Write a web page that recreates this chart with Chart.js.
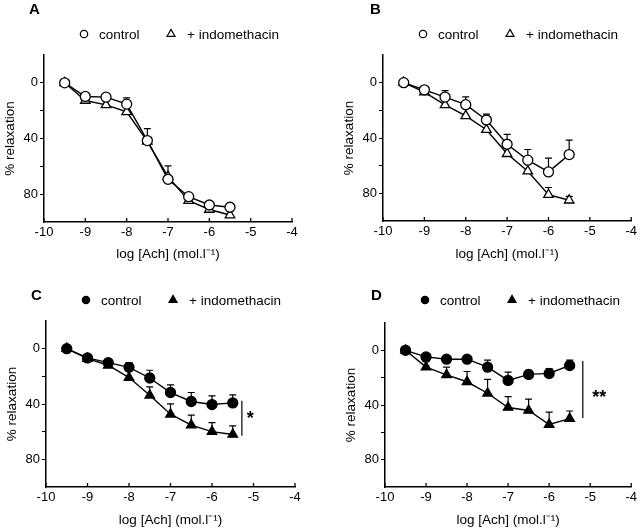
<!DOCTYPE html>
<html>
<head>
<meta charset="utf-8">
<script src="https://cdn.jsdelivr.net/npm/chart.js@4/dist/chart.umd.min.js"></script>
<style>
  body { margin: 0; background: #fff; }
  #wrap { position: relative; width: 640px; height: 532px; }
  .panel { position: absolute; width: 320px; height: 266px; }
  .letter { position: absolute; font: bold 15px "Liberation Sans", Arial, sans-serif; color: #000; }
</style>
</head>
<body>
<div id="wrap">
  <div class="panel" style="left:0;top:0"><canvas id="chartA" width="320" height="266"></canvas></div>
  <div class="panel" style="left:320px;top:0"><canvas id="chartB" width="320" height="266"></canvas></div>
  <div class="panel" style="left:0;top:266px"><canvas id="chartC" width="320" height="266"></canvas></div>
  <div class="panel" style="left:320px;top:266px"><canvas id="chartD" width="320" height="266"></canvas></div>
  <div class="letter" style="left:29px;top:0px">A</div>
  <div class="letter" style="left:370px;top:0px">B</div>
  <div class="letter" style="left:31px;top:286px">C</div>
  <div class="letter" style="left:371px;top:286px">D</div>
</div>
<script>
// log [Ach] doses
const doses = [-9.5, -9, -8.5, -8, -7.5, -7, -6.5, -6, -5.5];
const yLabelled = [0, 40, 80];
const seriesNames = ["control", "+ indomethacin"];

// panel A
const aControl = [0, 9.8, 10.3, 15.3, 41.5, 69.3, 81.8, 87.8, 89.4];
const aControlErr = [0, 0, 2.4, 4.5, 8.6, 9.6, 0, 1.2, 1.6];
const aIndo = [0, 12.7, 15.8, 20.9, 42, 67.4, 84.7, 91, 95];
const aIndoErr = [0, 0, 0, 0, 0, 0, 0, 0, 0];

// panel B
const bControl = [0, 5.2, 10.4, 15.9, 27, 44.5, 56, 64.5, 52];
const bControlErr = [0, 0, 4.7, 5.7, 4.3, 7.1, 7.7, 10, 10.5];
const bIndo = [0, 6.9, 16.1, 24, 34, 51.4, 64, 81, 85];
const bIndoErr = [0, 0, 0, 0, 0, 0, 0, 5.2, 2.8];

// panel C
const cControl = [0, 6.7, 10.1, 13.5, 21.2, 31.7, 38.2, 40.4, 39.2];
const cControlErr = [0, 0, 2.6, 3.4, 5.6, 5.5, 6.5, 6.3, 5.8];
const cIndo = [0, 7.2, 12, 20.9, 33.7, 47.4, 55.3, 60, 62];
const cIndoErr = [0, 0, 0, 0, 6.1, 7.5, 7.3, 6.6, 6.2];
const cSig = [-5.28, 37.7, 63];   // x, from, to
const cStar = [-5.08, 49, "*"];

// panel D
const dControl = [0, 4.8, 6.5, 6.5, 12.3, 22, 17.6, 16.9, 11.1];
const dControlErr = [0, 0, 0, 0, 5.1, 6, 2.9, 3.6, 3.9];
const dIndo = [0, 12.3, 18, 23, 31.4, 41.8, 44, 54.3, 50];
const dIndoErr = [0, 4, 5.7, 7.5, 10.1, 8, 8.3, 9.1, 5.6];
const dSig = [-5.18, 7.8, 49.5];
const dStar = [-4.78, 32.4, "**"];

const FONT = '"Liberation Sans", Arial, sans-serif';

const errorBars = {
  id: "errorBars",
  beforeDatasetsDraw(chart) {
    const { ctx, scales: { x, y } } = chart;
    ctx.save();
    ctx.strokeStyle = "#000";
    ctx.lineWidth = 1.2;
    chart.data.datasets.forEach((ds) => {
      ds.err.forEach((e, i) => {
        if (!e) return;
        const px = x.getPixelForValue(ds.data[i].x);
        const p0 = y.getPixelForValue(ds.data[i].y);
        const p1 = y.getPixelForValue(ds.data[i].y - e);
        ctx.beginPath();
        ctx.moveTo(px, p0);
        ctx.lineTo(px, p1);
        ctx.moveTo(px - 3.5, p1);
        ctx.lineTo(px + 3.5, p1);
        ctx.stroke();
      });
    });
    ctx.restore();
  },
};

const deco = {
  id: "deco",
  afterDraw(chart, args, opts) {
    const { ctx, chartArea, scales: { x, y } } = chart;
    ctx.save();
    ctx.strokeStyle = "#000";
    ctx.fillStyle = "#000";
    ctx.lineWidth = 1.3;

    // inward x ticks
    x.ticks.forEach((t) => {
      const px = x.getPixelForValue(t.value);
      ctx.beginPath();
      ctx.moveTo(px, chartArea.bottom);
      ctx.lineTo(px, chartArea.bottom - 4);
      ctx.stroke();
    });

    // legend
    const ly = opts.legendY;
    const marks = [40, 127];
    const texts = [55, 143];
    ctx.font = "13.5px " + FONT;
    ctx.textBaseline = "middle";
    chart.data.datasets.forEach((ds, i) => {
      ctx.fillStyle = ds.pointBackgroundColor;
      ctx.strokeStyle = "#000";
      ctx.lineWidth = 1.2;
      const r = ds.pointStyle === "triangle" ? 4.6 : 3.7;
      Chart.helpers.drawPoint(ctx, { pointStyle: ds.pointStyle, radius: r, rotation: 0, borderWidth: 1.2 },
        chartArea.left + marks[i], ly);
      ctx.fillStyle = "#000";
      ctx.fillText(ds.label, chartArea.left + texts[i], ly + 1);
    });

    // significance bar
    if (opts.sig) {
      const sx = x.getPixelForValue(opts.sig[0]);
      ctx.lineWidth = 1.2;
      ctx.beginPath();
      ctx.moveTo(sx, y.getPixelForValue(opts.sig[1]));
      ctx.lineTo(sx, y.getPixelForValue(opts.sig[2]));
      ctx.stroke();
      ctx.font = "bold 18px " + FONT;
      ctx.textAlign = "center";
      ctx.fillText(opts.star[2], x.getPixelForValue(opts.star[0]), y.getPixelForValue(opts.star[1]) + 3);
    }
    ctx.restore();
  },
};

function makeDataset(label, values, errs, filled, style) {
  return {
    label: label,
    data: doses.map((d, i) => ({ x: d, y: values[i] })),
    err: errs,
    showLine: true,
    borderColor: "#000",
    borderWidth: 1.4,
    pointStyle: style,
    pointRadius: style === "triangle" ? 5.5 : 5,
    pointBorderColor: "#000",
    pointBorderWidth: 1.3,
    pointBackgroundColor: filled ? "#000" : "#fff",
  };
}

function makePanel(id, ctrl, ctrlErr, indo, indoErr, filled, box, sig, star) {
  new Chart(document.getElementById(id), {
    type: "scatter",
    data: {
      datasets: [
        makeDataset(seriesNames[0], ctrl, ctrlErr, filled, "circle"),
        makeDataset(seriesNames[1], indo, indoErr, filled, "triangle"),
      ],
    },
    options: {
      responsive: false,
      animation: false,
      layout: { padding: { left: box.axisX - 44, top: box.top, right: 320 - box.right, bottom: 0 } },
      plugins: {
        legend: { display: false },
        tooltip: { enabled: false },
        deco: { legendY: 34, sig: sig, star: star },
      },
      scales: {
        x: {
          type: "linear",
          min: -10,
          max: -4,
          afterFit: (s) => { s.height = 266 - box.bottom; },
          grid: { drawOnChartArea: false, drawTicks: false },
          border: { color: "#000", width: 1.5 },
          ticks: { stepSize: 1, color: "#000", padding: 3, font: { family: FONT, size: 13 },
            callback: (v) => String(v) },
          title: { display: true, text: "log [Ach] (mol.l\u207B\u00B9)", color: "#000",
            font: { family: FONT, size: 13.5 }, padding: { top: -2 } },
        },
        y: {
          type: "linear",
          reverse: true,
          min: -20,
          max: 100,
          afterFit: (s) => { s.width = 44; },
          grid: { drawOnChartArea: false, drawTicks: true, tickLength: 4,
            tickColor: (c) => (c.tick && c.tick.value >= 0 && c.tick.value <= 80 ? "#000" : "rgba(0,0,0,0)") },
          border: { color: "#000", width: 1.5 },
          ticks: { stepSize: 20, color: "#000", padding: 2, font: { family: FONT, size: 13 },
            callback: (v) => (yLabelled.includes(v) ? String(v) : "") },
          title: { display: true, text: "% relaxation", color: "#000",
            font: { family: FONT, size: 13.5 }, padding: { top: 2 } },
        },
      },
    },
    plugins: [errorBars, deco],
  });
}

makePanel("chartA", aControl, aControlErr, aIndo, aIndoErr, false, { axisX: 44, top: 55, right: 292, bottom: 222 });
makePanel("chartB", bControl, bControlErr, bIndo, bIndoErr, false, { axisX: 63, top: 55, right: 312, bottom: 221 });
makePanel("chartC", cControl, cControlErr, cIndo, cIndoErr, true, { axisX: 46, top: 55, right: 295, bottom: 221 }, cSig, cStar);
makePanel("chartD", dControl, dControlErr, dIndo, dIndoErr, true, { axisX: 65, top: 57, right: 312, bottom: 221 }, dSig, dStar);
</script>
</body>
</html>
